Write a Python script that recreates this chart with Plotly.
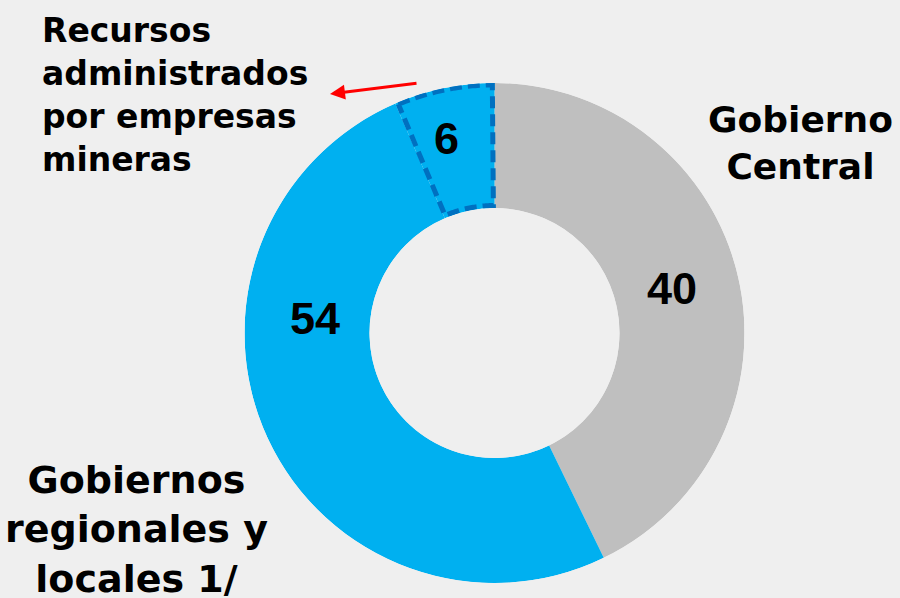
import numpy as np
import plotly.graph_objects as go

# slices as drawn (clockwise from 12 o'clock), in percent of the ring
slice_names = ["Gobierno Central", "Gobiernos regionales y locales", "Empresas mineras"]
slice_shares = [42.8, 50.7, 6.5]
slice_labels = ["40", "54", "6"]
slice_colors = ["#BFBFBF", "#00B0F0", "#00B0F0"]

BG = "#EFEFEF"


def slice_angles(shares):
    """ start / end / mid angle (deg) for each slice """
    total = sum(shares)
    ends = np.cumsum(shares) / total * 360
    starts = np.concatenate([[0], ends[:-1]])
    return starts, ends, (starts + ends) / 2, ends - starts


starts, ends, mids, spans = slice_angles(slice_shares)

fig = go.Figure()
fig.add_trace(go.Barpolar(
    r=[1] * len(slice_shares),
    theta=mids,
    width=spans,
    marker=dict(color=slice_colors, line=dict(width=0)),
    hoverinfo="skip",
    showlegend=False,
))

# dashed outline around the small slice
a0, a1 = starts[2] + 0.6, ends[2] - 0.5
arc = np.linspace(a0, a1, 40)
th = np.concatenate([arc, arc[::-1], [a0]])
rr = np.concatenate([[0.985] * len(arc), [0.02] * len(arc), [0.985]])
fig.add_trace(go.Scatterpolar(
    r=rr, theta=th, mode="lines",
    line=dict(color="#0070C0", width=5, dash="12px,6px"),
    hoverinfo="skip", showlegend=False,
))

num_font = dict(family="Liberation Sans, Arial", size=45, color="black", weight="bold")
lab_font = dict(family="DejaVu Sans", color="black", weight="bold")

# numbers on the ring
num_pos = [(672, 288), (315, 318), (446, 138)]
for txt, (px, py) in zip(slice_labels, num_pos):
    fig.add_annotation(x=px / 900, y=1 - py / 598, xref="paper", yref="paper",
                       text=txt, showarrow=False, font=num_font,
                       xanchor="center", yanchor="middle")

fig.add_annotation(x=800 / 900, y=1 - 143 / 598, xref="paper", yref="paper",
                   text="Gobierno<br>Central", showarrow=False,
                   font=dict(lab_font, size=36), align="center",
                   xanchor="center", yanchor="middle")
fig.add_annotation(x=136 / 900, y=1 - 529 / 598, xref="paper", yref="paper",
                   text="Gobiernos<br>regionales y<br>locales 1/", showarrow=False,
                   font=dict(lab_font, size=38), align="center",
                   xanchor="center", yanchor="middle")
fig.add_annotation(x=40 / 900, y=1 - 95 / 598, xref="paper", yref="paper",
                   text="Recursos<br>administrados<br>por empresas<br>mineras", showarrow=False,
                   font=dict(lab_font, size=33), align="left",
                   xanchor="left", yanchor="middle")

# red arrow pointing at the label
fig.add_annotation(x=330 / 900, y=1 - 94 / 598, xref="paper", yref="paper",
                   ax=88, ay=-11, text="", showarrow=True,
                   arrowhead=2, arrowsize=1, arrowwidth=3, arrowcolor="#FF0000")

fig.update_layout(
    width=900, height=598,
    margin=dict(l=0, r=0, t=0, b=0),
    paper_bgcolor=BG, plot_bgcolor=BG,
    polar=dict(
        domain=dict(x=[244.5 / 900, 744.5 / 900], y=[1 - 583 / 598, 1 - 83 / 598]),
        hole=0.5,
        bgcolor=BG,
        radialaxis=dict(range=[0, 1], visible=False),
        angularaxis=dict(rotation=90, direction="clockwise", visible=False),
        bargap=0,
    ),
)

# drop the page margin so the figure sits at the window's corner
fig.write_html("out.html", config={"displayModeBar": False},
               post_script="document.body.style.margin='0';")
